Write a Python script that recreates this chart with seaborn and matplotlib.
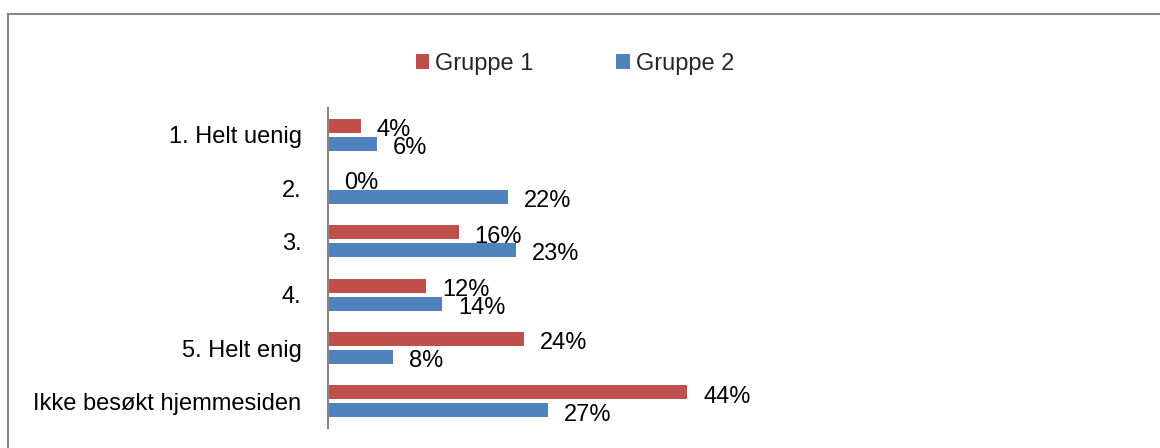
import pandas as pd
import matplotlib
matplotlib.use("Agg")
import matplotlib.pyplot as plt
import seaborn as sns

# --- Data ---
CATEGORIES = ["1. Helt uenig", "2.", "3.", "4.", "5. Helt enig", "Ikke besøkt hjemmesiden"]
GRUPPE_1 = [4, 0, 16, 12, 24, 44]
GRUPPE_2 = [6, 22, 23, 14, 8, 27]
GROUPS = ["Gruppe 1", "Gruppe 2"]
COLORS = ["#C0504D", "#4F81BD"]

df = pd.DataFrame({
    "category": CATEGORIES * 2,
    "value": GRUPPE_1 + GRUPPE_2,
    "group": [GROUPS[0]] * len(CATEGORIES) + [GROUPS[1]] * len(CATEGORIES),
})

sns.set_theme(style="white")
plt.rcParams["font.family"] = ["Liberation Sans", "DejaVu Sans"]
FS = 17

W, H = 1160, 448
fig = plt.figure(figsize=(W / 100, H / 100), dpi=100)
ax = fig.add_axes([328 / W, 1 - 428 / H, 408 / W, 320 / H])

sns.barplot(data=df, x="value", y="category", hue="group", orient="h",
            palette=COLORS, width=0.675, gap=0.22, saturation=1, linewidth=0,
            ax=ax)

for c in ax.containers:
    labels = ax.bar_label(c, fmt="%g%%", padding=11.5, fontsize=FS, color="black")
    # nudge labels slightly below the bar centre, like the original
    for t in labels:
        t.xyann = (11.5, -3)

ax.set_xlim(0, 50)
ax.set_xlabel("")
ax.set_ylabel("")
ax.set_xticks([])
ax.tick_params(axis="y", length=0, pad=19, labelsize=FS, labelcolor="black")
sns.despine(ax=ax, left=False, bottom=True)
ax.spines["left"].set_color("#868686")
ax.spines["left"].set_linewidth(1.5)

# legend on top
sns.move_legend(ax, "center", bbox_to_anchor=(575 / W, 1 - 64 / H),
                bbox_transform=fig.transFigure, ncol=2, frameon=False,
                title=None, fontsize=FS, handlelength=0.58, handleheight=0.58,
                handletextpad=0.25, columnspacing=3.5)

# chart frame (only top and left visible)
fig.patches.append(plt.Rectangle((8 / W, -0.2), 1.2, 1.2 - 14 / H,
                                 transform=fig.transFigure, fill=False,
                                 edgecolor="#868686", linewidth=1.5))

fig.savefig("out.png", dpi=100)
